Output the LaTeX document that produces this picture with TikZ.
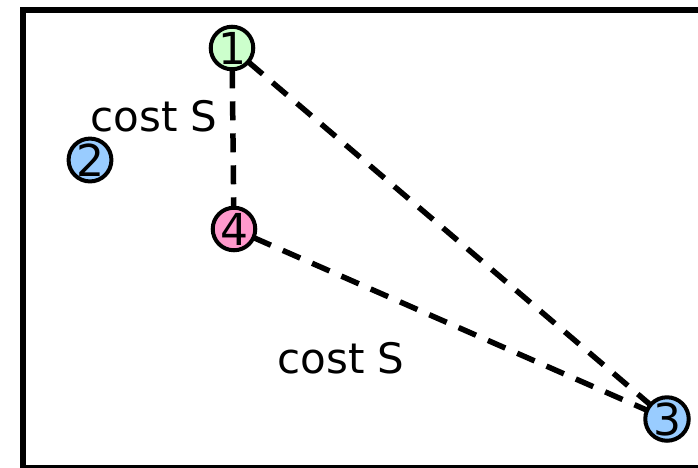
\documentclass[tikz,border=0pt]{standalone}
\usepackage{fontspec}
\setmainfont{DejaVu Sans}
\definecolor{sgreen}{HTML}{CCFFCC}
\definecolor{sblue}{HTML}{99CCFF}
\definecolor{spink}{HTML}{FF99CC}
\tikzset{
  site/.style={circle, draw=black, line width=4pt, minimum size=42pt, inner sep=0pt,
    font=\fontsize{44}{44}\selectfont},
  link/.style={line width=5.5pt, dash pattern=on 19pt off 13pt},
  costlabel/.style={font=\fontsize{42}{42}\selectfont}
}
\begin{document}
\begin{tikzpicture}[x=1pt, y=1pt, yscale=-1, inner sep=0pt, outer sep=0pt]
\useasboundingbox (0,0) rectangle (698,467);
\clip (0,0) rectangle (698,467);
\fill[white] (0,0) rectangle (698,467);
\draw[line width=6pt] (22.5,10) rectangle (760,468);

\node[site, fill=sgreen] (s1) at (232,48) {1};
\node[site, fill=sblue] (s2) at (90,160) {2};
\node[site, fill=sblue] (s3) at (667,419) {3};
\node[site, fill=spink] (s4) at (234,229) {4};

\draw[link] (s1) -- (s4);
\draw[link] (s1) -- (s3);
\draw[link] (s4) -- (s3);

\node[costlabel] (c1) at (154,116) {cost S};
\node[costlabel] (c2) at (341,358) {cost S};
\end{tikzpicture}
\end{document}
